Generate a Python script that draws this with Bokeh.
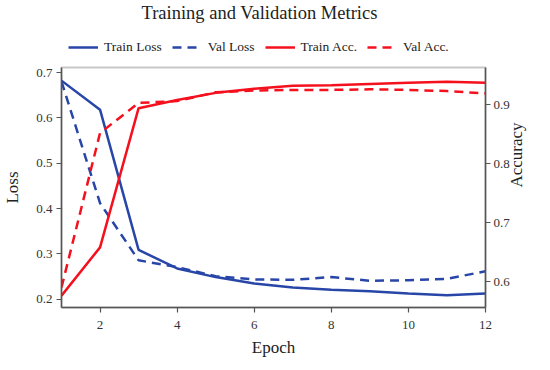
import math
from bokeh.plotting import figure
from bokeh.layouts import column
from bokeh.models import Range1d, LinearAxis, Legend, LegendItem, FixedTicker
from bokeh.embed import file_html
from bokeh.resources import INLINE

epochs = [1, 2, 3, 4, 5, 6, 7, 8, 9, 10, 11, 12]
train_loss = [0.682, 0.618, 0.309, 0.268, 0.249, 0.235, 0.226, 0.221, 0.218, 0.213, 0.209, 0.213]
val_loss = [0.680, 0.412, 0.286, 0.271, 0.251, 0.244, 0.243, 0.249, 0.241, 0.242, 0.245, 0.262]
train_acc = [0.576, 0.658, 0.894, 0.908, 0.920, 0.927, 0.932, 0.933, 0.935, 0.937, 0.939, 0.937]
val_acc = [0.590, 0.852, 0.903, 0.906, 0.921, 0.924, 0.925, 0.925, 0.926, 0.925, 0.923, 0.919]

series_names = ["Train Loss", "Val Loss", "Train Acc.", "Val Acc."]
series_values = [train_loss, val_loss, train_acc, val_acc]
loss_ticks = [0.2, 0.3, 0.4, 0.5, 0.6, 0.7]
acc_ticks = [0.6, 0.7, 0.8, 0.9]
epoch_ticks = [2, 4, 6, 8, 10, 12]

FONT = "Liberation Serif"
BLUE = "#2846a8"
RED = "#f5101e"
AX = "#555555"
styles = [(BLUE, "solid"), (BLUE, "9 6"), (RED, "solid"), (RED, "9 6")]

# ---- header: title + legend (series drawn out of view, only for legend swatches) ----
h = figure(width=534, height=65, output_backend="svg", toolbar_location=None,
           x_range=Range1d(1, 12), y_range=Range1d(5, 6),
           min_border_left=0, min_border_right=0, min_border_top=0, min_border_bottom=0)
h.axis.visible = False
h.grid.visible = False
h.outline_line_color = None
h.title.text = "Training and Validation Metrics"
h.title.text_font = FONT
h.title.text_font_size = "18.5px"
h.title.text_font_style = "normal"
h.title.align = "left"
h.title.offset = 80
h.title.standoff = 0
h.title.text_color = "#222222"

hr = [h.line(epochs, v, line_color=c, line_width=2.5, line_dash=d)
      for v, (c, d) in zip(series_values, styles)]
legend = Legend(items=[LegendItem(label=n, renderers=[r]) for n, r in zip(series_names, hr)],
                orientation="horizontal", location=(7, 8))
legend.label_text_font = FONT
legend.label_text_font_size = "13.5px"
legend.label_text_color = "#222222"
legend.glyph_width = 30
legend.spacing = 10
legend.label_standoff = 6
legend.border_line_color = None
legend.background_fill_alpha = 0
legend.padding = 0
legend.margin = 0
h.add_layout(legend, "center")

# ---- main plot ----
p = figure(frame_width=424, frame_height=240, output_backend="svg", toolbar_location=None,
           x_range=Range1d(1, 12), y_range=Range1d(0.182, 0.711),
           min_border_left=55, min_border_right=20, min_border_top=2, min_border_bottom=55)
p.extra_y_ranges = {"acc": Range1d(0.556, 0.963)}
p.grid.visible = False
p.outline_line_color = "#c8c8c8"
p.outline_line_width = 2

p.line(epochs, train_loss, line_color=BLUE, line_width=2.5)
p.line(epochs, val_loss, line_color=BLUE, line_width=2.5, line_dash="9 6")
p.line(epochs, train_acc, line_color=RED, line_width=2.5, y_range_name="acc")
p.line(epochs, val_acc, line_color=RED, line_width=2.5, line_dash="9 6", y_range_name="acc")

right = LinearAxis(y_range_name="acc", axis_label="Accuracy")
p.add_layout(right, "right")

for ax in [p.xaxis[0], p.yaxis[0], right]:
    ax.axis_line_color = AX
    ax.axis_line_width = 1.5
    ax.major_tick_line_color = AX
    ax.major_tick_line_width = 1.2
    ax.major_tick_out = 5
    ax.major_tick_in = 0
    ax.minor_tick_line_color = None
    ax.major_label_text_font = FONT
    ax.major_label_text_font_size = "13px"
    ax.major_label_text_color = "#333333"
    ax.axis_label_text_font = FONT
    ax.axis_label_text_font_size = "17px"
    ax.axis_label_text_font_style = "normal"
    ax.axis_label_text_color = "#222222"

p.xaxis[0].ticker = FixedTicker(ticks=epoch_ticks)
p.yaxis[0].ticker = FixedTicker(ticks=loss_ticks)
right.ticker = FixedTicker(ticks=acc_ticks)
p.xaxis[0].axis_label = "Epoch"
p.yaxis[0].axis_label = "Loss"
p.xaxis[0].major_label_standoff = 8
p.xaxis[0].axis_label_standoff = 6
p.yaxis[0].major_label_standoff = 4
p.yaxis[0].axis_label_standoff = 11
right.major_label_standoff = 3
right.axis_label_standoff = 4
right.axis_label_orientation = math.pi / 2

layout = column(h, p, spacing=0)
open("out.html", "w").write(file_html(layout, INLINE))
